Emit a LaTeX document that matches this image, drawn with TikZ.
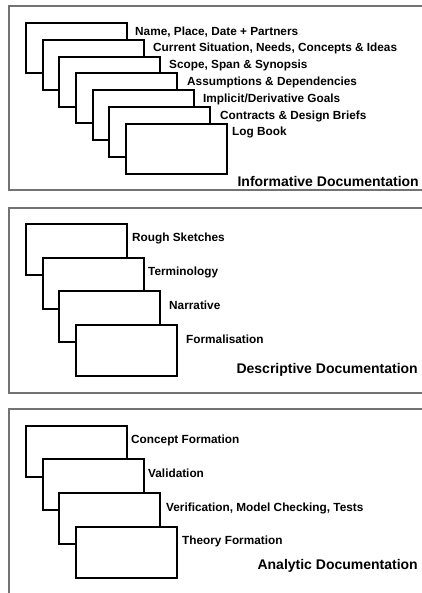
\documentclass[tikz,border=0pt]{standalone}
\usepackage{fontspec}
\setmainfont{Liberation Sans}
\begin{document}
\begin{tikzpicture}[x=1pt,y=-1pt,
  panel/.style={draw=black!55,line width=1.3pt},
  sheet/.style={draw=black,fill=white,line width=1.3pt,rectangle,
    minimum width=101pt,minimum height=50pt,inner sep=0pt,outer sep=0pt,anchor=north west},
  item/.style={anchor=base west,inner sep=0pt,font=\fontsize{11.8}{13}\selectfont\bfseries},
  heading/.style={anchor=base east,inner sep=0pt,font=\fontsize{14}{16}\selectfont\bfseries}]
\useasboundingbox (0,0) rectangle (422,593);
\clip (0,0) rectangle (422,593);
\fill[white] (0,0) rectangle (422,593);

% three panels, open to the right (and bottom of the last one)
\draw[panel] (430,6) -- (9,6) -- (9,190) -- (430,190);
\draw[panel] (430,208) -- (9,208) -- (9,393) -- (430,393);
\draw[panel] (430,409) -- (9,409) -- (9,600);

% informative documentation: seven stacked sheets
\foreach \i/\x/\y in {1/26/23,2/43/40,3/59/57,4/76/73,5/93/90,6/109/107,7/126/124}
  \node[sheet] (inf\i) at (\x,\y) {};
\node[item] (infl1) at (135,36)  {Name, Place, Date + Partners};
\node[item] (infl2) at (153,52)  {Current Situation, Needs, Concepts \& Ideas};
\node[item] (infl3) at (169,69)  {Scope, Span \& Synopsis};
\node[item] (infl4) at (187,86)  {Assumptions \& Dependencies};
\node[item] (infl5) at (203,103) {Implicit/Derivative Goals};
\node[item] (infl6) at (220,120) {Contracts \& Design Briefs};
\node[item] (infl7) at (232,136) {Log Book};
\node[heading] (infh) at (419,187) {Informative Documentation};

% descriptive documentation: four stacked sheets
\foreach \i/\x/\y in {1/26/224,2/43/258,3/59/291,4/76/325}
  \node[sheet,minimum height=51pt] (des\i) at (\x,\y) {};
\node[item] (desl1) at (132,242) {Rough Sketches};
\node[item] (desl2) at (148,275) {Terminology};
\node[item] (desl3) at (169,309) {Narrative};
\node[item] (desl4) at (186,343) {Formalisation};
\node[heading] (desh) at (418,373) {Descriptive Documentation};

% analytic documentation: four stacked sheets
\foreach \i/\x/\y in {1/26/426,2/43/459,3/59/493,4/76/527}
  \node[sheet,minimum height=51pt] (ana\i) at (\x,\y) {};
\node[item] (anal1) at (131,443) {Concept Formation};
\node[item] (anal2) at (148,477) {Validation};
\node[item] (anal3) at (166,511) {Verification, Model Checking, Tests};
\node[item] (anal4) at (182,544) {Theory Formation};
\node[heading] (anah) at (418,569) {Analytic Documentation};
\end{tikzpicture}
\end{document}
